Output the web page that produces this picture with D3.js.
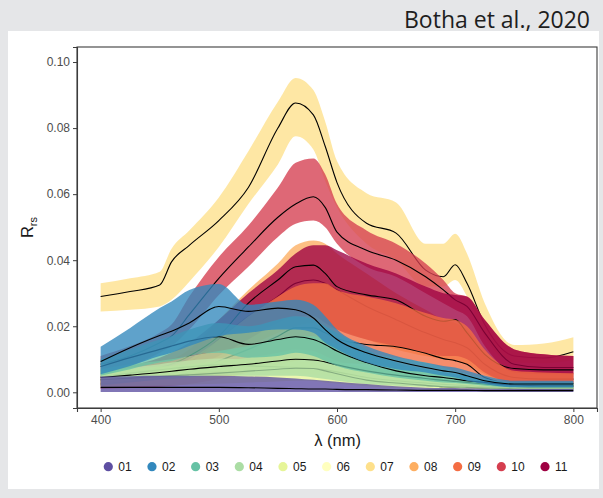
<!DOCTYPE html>
<html>
<head>
<meta charset="utf-8">
<script src="https://cdn.jsdelivr.net/npm/d3@7"></script>
<style>
  html, body { margin: 0; padding: 0; background: #e5e6e8; }
  svg { display: block; }
</style>
</head>
<body>
<svg id="chart" width="603" height="498"></svg>
<script>
// Wavelength grid (nm) shared by every water type
const wavelengths = [400,425,450,460,475,500,525,550,565,580,590,600,625,650,675,690,700,710,725,750,775,800];

const typeIds = ["01","02","03","04","05","06","07","08","09","10","11"];
const typeColors = ["#5E4FA2","#3288BD","#66C2A5","#ABDDA4","#E6F598","#FFFFBF","#FEE08B","#FDAE61","#F46D43","#D53E4F","#9E0142"];

const xTicks = [400, 500, 600, 700, 800];
const yTicks = [0, 0.02, 0.04, 0.06, 0.08, 0.10];

// Mean Rrs and envelope for each type
const mean01  = [0.0015,0.0015,0.0015,0.0015,0.0015,0.0015,0.0014,0.0012,0.0011,0.0010,0.0010,0.0009,0.0008,0.0007,0.0006,0.0006,0.0006,0.0006,0.0005,0.0005,0.0005,0.0005];
const upper01 = [0.0048,0.0049,0.0050,0.0050,0.0050,0.0050,0.0048,0.0045,0.0042,0.0038,0.0035,0.0032,0.0025,0.0018,0.0014,0.0013,0.0013,0.0012,0.0011,0.0010,0.0010,0.0010];
const lower01 = [0.0001,0.0001,0.0001,0.0001,0.0001,0.0001,0.0001,0.0001,0.0001,0.0001,0.0001,0.0001,0.0001,0.0001,0.0001,0.0001,0.0001,0.0001,0.0001,0.0001,0.0001,0.0001];

const mean02  = [0.0093,0.0135,0.0172,0.0185,0.0210,0.0260,0.0245,0.0255,0.0250,0.0225,0.0190,0.0160,0.0120,0.0095,0.0075,0.0065,0.0060,0.0050,0.0035,0.0025,0.0025,0.0025];
const upper02 = [0.0138,0.0195,0.0255,0.0275,0.0310,0.0328,0.0265,0.0275,0.0280,0.0265,0.0230,0.0190,0.0140,0.0110,0.0090,0.0080,0.0075,0.0065,0.0050,0.0035,0.0035,0.0035];
const lower02 = [0.0055,0.0080,0.0110,0.0120,0.0140,0.0170,0.0180,0.0190,0.0190,0.0180,0.0150,0.0130,0.0090,0.0070,0.0060,0.0050,0.0045,0.0035,0.0025,0.0015,0.0015,0.0015];

const mean03  = [0.0078,0.0105,0.0130,0.0140,0.0155,0.0168,0.0145,0.0160,0.0168,0.0160,0.0145,0.0125,0.0090,0.0065,0.0050,0.0045,0.0040,0.0035,0.0030,0.0022,0.0020,0.0020];
const upper03 = [0.0100,0.0130,0.0160,0.0170,0.0190,0.0210,0.0200,0.0220,0.0230,0.0220,0.0200,0.0180,0.0130,0.0090,0.0070,0.0060,0.0055,0.0050,0.0040,0.0030,0.0030,0.0030];
const lower03 = [0.0050,0.0070,0.0090,0.0095,0.0110,0.0120,0.0105,0.0110,0.0120,0.0110,0.0095,0.0080,0.0060,0.0045,0.0035,0.0030,0.0028,0.0025,0.0020,0.0015,0.0014,0.0014];

const mean04  = [0.0045,0.0052,0.0060,0.0064,0.0070,0.0078,0.0085,0.0095,0.0100,0.0098,0.0092,0.0083,0.0065,0.0052,0.0042,0.0036,0.0033,0.0030,0.0025,0.0018,0.0017,0.0017];
const upper04 = [0.0070,0.0085,0.0095,0.0100,0.0110,0.0125,0.0140,0.0160,0.0170,0.0170,0.0160,0.0145,0.0120,0.0105,0.0090,0.0075,0.0065,0.0055,0.0040,0.0028,0.0025,0.0025];
const lower04 = [0.0020,0.0030,0.0038,0.0040,0.0045,0.0050,0.0050,0.0050,0.0050,0.0045,0.0040,0.0035,0.0025,0.0020,0.0017,0.0015,0.0014,0.0013,0.0011,0.0009,0.0009,0.0009];

const mean05  = [0.0038,0.0043,0.0048,0.0050,0.0053,0.0058,0.0064,0.0070,0.0073,0.0072,0.0065,0.0056,0.0037,0.0028,0.0021,0.0017,0.0016,0.0015,0.0013,0.0011,0.0010,0.0010];
const upper05 = [0.0065,0.0070,0.0078,0.0080,0.0085,0.0095,0.0105,0.0120,0.0130,0.0125,0.0110,0.0095,0.0075,0.0062,0.0050,0.0042,0.0038,0.0034,0.0028,0.0022,0.0020,0.0020];
const lower05 = [0.0015,0.0018,0.0020,0.0021,0.0023,0.0026,0.0030,0.0033,0.0035,0.0034,0.0030,0.0027,0.0018,0.0013,0.0010,0.0009,0.0008,0.0008,0.0007,0.0006,0.0006,0.0006];

const mean06  = [0.0047,0.0058,0.0068,0.0072,0.0077,0.0083,0.0080,0.0077,0.0075,0.0072,0.0068,0.0062,0.0045,0.0035,0.0028,0.0024,0.0022,0.0020,0.0017,0.0014,0.0013,0.0013];
const upper06 = [0.0062,0.0074,0.0085,0.0090,0.0096,0.0102,0.0098,0.0095,0.0093,0.0090,0.0085,0.0078,0.0058,0.0046,0.0037,0.0032,0.0030,0.0027,0.0023,0.0019,0.0018,0.0018];
const lower06 = [0.0032,0.0042,0.0051,0.0054,0.0058,0.0064,0.0062,0.0059,0.0057,0.0054,0.0051,0.0046,0.0032,0.0024,0.0019,0.0016,0.0014,0.0013,0.0011,0.0009,0.0008,0.0008];

const mean07  = [0.0290,0.0305,0.0325,0.0395,0.0445,0.0520,0.0620,0.0800,0.0876,0.0840,0.0745,0.0635,0.0512,0.0482,0.0370,0.0350,0.0386,0.0330,0.0205,0.0110,0.0104,0.0123];
const upper07 = [0.0330,0.0345,0.0365,0.0435,0.0490,0.0590,0.0730,0.0880,0.0952,0.0915,0.0820,0.0700,0.0603,0.0575,0.0450,0.0450,0.0480,0.0420,0.0270,0.0143,0.0148,0.0167];
const lower07 = [0.0245,0.0250,0.0260,0.0280,0.0335,0.0440,0.0570,0.0690,0.0775,0.0735,0.0640,0.0560,0.0450,0.0400,0.0320,0.0320,0.0340,0.0290,0.0170,0.0090,0.0088,0.0098];

const mean08  = [0.0035,0.0050,0.0065,0.0070,0.0090,0.0160,0.0230,0.0290,0.0330,0.0340,0.0330,0.0310,0.0260,0.0220,0.0180,0.0160,0.0150,0.0135,0.0085,0.0045,0.0040,0.0040];
const upper08 = [0.0050,0.0070,0.0090,0.0100,0.0130,0.0220,0.0310,0.0390,0.0445,0.0460,0.0450,0.0420,0.0360,0.0300,0.0250,0.0220,0.0210,0.0190,0.0120,0.0065,0.0060,0.0060];
const lower08 = [0.0020,0.0030,0.0040,0.0045,0.0060,0.0100,0.0140,0.0180,0.0200,0.0210,0.0200,0.0190,0.0160,0.0130,0.0110,0.0100,0.0095,0.0085,0.0055,0.0030,0.0027,0.0027];

const mean09  = [0.0025,0.0033,0.0042,0.0048,0.0060,0.0095,0.0130,0.0170,0.0195,0.0195,0.0180,0.0163,0.0145,0.0138,0.0118,0.0102,0.0096,0.0085,0.0045,0.0027,0.0027,0.0027];
const upper09 = [0.0040,0.0055,0.0070,0.0080,0.0100,0.0160,0.0230,0.0290,0.0320,0.0330,0.0330,0.0310,0.0290,0.0270,0.0240,0.0225,0.0220,0.0200,0.0130,0.0065,0.0060,0.0058];
const lower09 = [0.0010,0.0013,0.0017,0.0020,0.0025,0.0040,0.0060,0.0080,0.0095,0.0100,0.0095,0.0090,0.0085,0.0080,0.0070,0.0063,0.0060,0.0055,0.0030,0.0015,0.0015,0.0015];

const mean10  = [0.0085,0.0110,0.0150,0.0170,0.0235,0.0345,0.0440,0.0530,0.0570,0.0592,0.0560,0.0485,0.0430,0.0400,0.0350,0.0310,0.0280,0.0260,0.0180,0.0085,0.0075,0.0075];
const upper10 = [0.0110,0.0140,0.0180,0.0205,0.0290,0.0410,0.0505,0.0620,0.0695,0.0708,0.0660,0.0570,0.0490,0.0450,0.0390,0.0340,0.0300,0.0290,0.0220,0.0130,0.0115,0.0110];
const lower10 = [0.0060,0.0080,0.0120,0.0140,0.0190,0.0295,0.0380,0.0470,0.0510,0.0520,0.0500,0.0450,0.0380,0.0350,0.0300,0.0270,0.0250,0.0230,0.0140,0.0060,0.0055,0.0055];

const mean11  = [0.0040,0.0055,0.0075,0.0085,0.0110,0.0170,0.0270,0.0340,0.0380,0.0385,0.0360,0.0320,0.0295,0.0280,0.0230,0.0215,0.0220,0.0180,0.0115,0.0072,0.0068,0.0068];
const upper11 = [0.0060,0.0080,0.0105,0.0120,0.0150,0.0220,0.0300,0.0370,0.0420,0.0445,0.0445,0.0430,0.0390,0.0360,0.0320,0.0300,0.0295,0.0290,0.0220,0.0130,0.0115,0.0110];
const lower11 = [0.0020,0.0030,0.0040,0.0050,0.0070,0.0110,0.0160,0.0210,0.0230,0.0230,0.0210,0.0190,0.0160,0.0140,0.0120,0.0110,0.0110,0.0100,0.0060,0.0030,0.0030,0.0030];

const means  = [mean01, mean02, mean03, mean04, mean05, mean06, mean07, mean08, mean09, mean10, mean11];
const uppers = [upper01, upper02, upper03, upper04, upper05, upper06, upper07, upper08, upper09, upper10, upper11];
const lowers = [lower01, lower02, lower03, lower04, lower05, lower06, lower07, lower08, lower09, lower10, lower11];

// Paint order: bright, high-reflectance types first, clear-water types last
const paintOrder = [6, 7, 9, 10, 8, 5, 4, 3, 2, 1, 0];

const svg = d3.select("#chart");

// White card behind the plot
svg.append("rect").attr("x", 8).attr("y", 31).attr("width", 591).attr("height", 458).attr("fill", "#ffffff");

svg.append("text")
  .attr("x", 590).attr("y", 28)
  .attr("text-anchor", "end")
  .attr("font-family", "'Open Sans', sans-serif")
  .attr("font-size", 23)
  .attr("fill", "#1e1e1e")
  .text("Botha et al., 2020");

const panel = { left: 77, right: 597, top: 47, bottom: 408 };

const x = d3.scaleLinear().domain([380, 820]).range([panel.left, panel.right]);
const y = d3.scaleLinear().domain([-0.00475, 0.10455]).range([panel.bottom, panel.top]);

const area = d3.area()
  .x((d, i) => x(wavelengths[i]))
  .y0(d => y(d[0]))
  .y1(d => y(d[1]))
  .curve(d3.curveMonotoneX);

const line = d3.line()
  .x((d, i) => x(wavelengths[i]))
  .y(d => y(d))
  .curve(d3.curveMonotoneX);

const plot = svg.append("g");

paintOrder.forEach(k => {
  const band = wavelengths.map((w, i) => [lowers[k][i], uppers[k][i]]);
  plot.append("path")
    .attr("d", area(band))
    .attr("fill", typeColors[k])
    .attr("fill-opacity", 0.78);
  plot.append("path")
    .attr("d", line(means[k]))
    .attr("fill", "none")
    .attr("stroke", "#000")
    .attr("stroke-width", 1.1);
});

// Panel frame
svg.append("rect")
  .attr("x", panel.left).attr("y", panel.top)
  .attr("width", panel.right - panel.left).attr("height", panel.bottom - panel.top)
  .attr("fill", "none").attr("stroke", "#3c3c3c").attr("stroke-width", 1.1);

const xAxis = svg.append("g")
  .attr("transform", `translate(0,${panel.bottom})`)
  .call(d3.axisBottom(x).tickValues(xTicks).tickSize(4).tickPadding(3).tickFormat(d3.format("d")));
const yAxis = svg.append("g")
  .attr("transform", `translate(${panel.left},0)`)
  .call(d3.axisLeft(y).tickValues(yTicks).tickSize(4).tickPadding(3).tickFormat(d3.format(".2f")));

[xAxis, yAxis].forEach(g => {
  g.select(".domain").attr("stroke", "#3c3c3c").attr("stroke-width", 1.1);
  g.selectAll(".tick line").attr("stroke", "#3c3c3c");
  g.selectAll(".tick text")
    .attr("fill", "#4d4d4d")
    .attr("font-family", "'Liberation Sans', Arial, sans-serif")
    .attr("font-size", 12);
});

// Axis titles
svg.append("text")
  .attr("x", (x(400) + x(800)) / 2 + 0.5).attr("y", 446)
  .attr("text-anchor", "middle")
  .attr("font-family", "'Liberation Sans', Arial, sans-serif")
  .attr("font-size", 16.5)
  .attr("fill", "#1a1a1a")
  .text("λ (nm)");

const yTitle = svg.append("text")
  .attr("transform", `translate(33,${(panel.top + panel.bottom) / 2}) rotate(-90)`)
  .attr("text-anchor", "middle")
  .attr("font-family", "'Liberation Sans', Arial, sans-serif")
  .attr("font-size", 16.5)
  .attr("fill", "#1a1a1a");
yTitle.append("tspan").text("R");
yTitle.append("tspan").attr("font-size", 11).attr("dy", 3.5).text("rs");

// Legend
const legend = svg.append("g").attr("transform", "translate(108.3,466.7)");
typeIds.forEach((id, i) => {
  const g = legend.append("g").attr("transform", `translate(${i * 43.67},0)`);
  g.append("circle").attr("r", 4.6).attr("fill", typeColors[i]);
  g.append("text")
    .attr("x", 10).attr("y", 4.3)
    .attr("font-family", "'Liberation Sans', Arial, sans-serif")
    .attr("font-size", 12)
    .attr("fill", "#1a1a1a")
    .text(id);
});
</script>
</body>
</html>
